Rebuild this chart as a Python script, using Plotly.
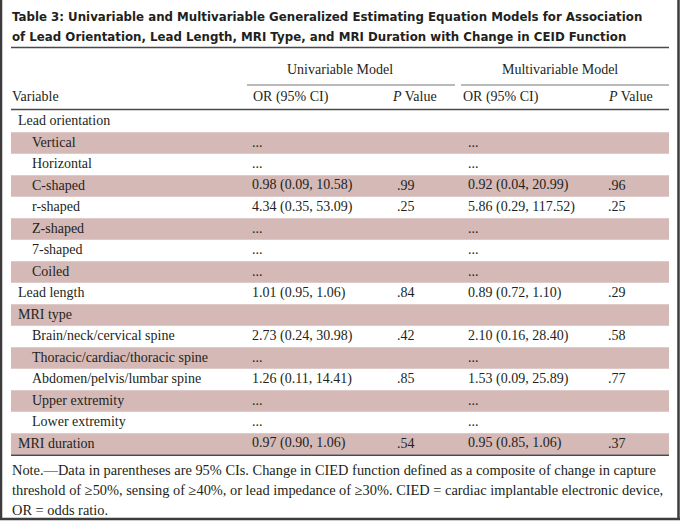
import plotly.graph_objects as go

# ---------------- data ----------------
title_lines = [
    "Table 3: Univariable and Multivariable Generalized Estimating Equation Models for Association",
    "of Lead Orientation, Lead Length, MRI Type, and MRI Duration with Change in CEID Function",
]
group_headers = ["Univariable Model", "Multivariable Model"]
col_headers = ["Variable", "OR (95% CI)", "<i>P</i> Value", "OR (95% CI)", "<i>P</i> Value"]

variables = ["Lead orientation", "Vertical", "Horizontal", "C-shaped", "r-shaped", "Z-shaped",
             "7-shaped", "Coiled", "Lead length", "MRI type", "Brain/neck/cervical spine",
             "Thoracic/cardiac/thoracic spine", "Abdomen/pelvis/lumbar spine",
             "Upper extremity", "Lower extremity", "MRI duration"]
indent = [0, 1, 1, 1, 1, 1, 1, 1, 0, 0, 1, 1, 1, 1, 1, 0]
uni_or = ["", "...", "...", "0.98 (0.09, 10.58)", "4.34 (0.35, 53.09)", "...", "...", "...",
          "1.01 (0.95, 1.06)", "", "2.73 (0.24, 30.98)", "...", "1.26 (0.11, 14.41)", "...", "...",
          "0.97 (0.90, 1.06)"]
uni_p = ["", "", "", ".99", ".25", "", "", "", ".84", "", ".42", "", ".85", "", "", ".54"]
multi_or = ["", "...", "...", "0.92 (0.04, 20.99)", "5.86 (0.29, 117.52)", "...", "...", "...",
            "0.89 (0.72, 1.10)", "", "2.10 (0.16, 28.40)", "...", "1.53 (0.09, 25.89)", "...", "...",
            "0.95 (0.85, 1.06)"]
multi_p = ["", "", "", ".96", ".25", "", "", "", ".29", "", ".58", "", ".77", "", "", ".37"]

note_lines = [
    "Note.\u2014Data in parentheses are 95% CIs. Change in CIED function defined as a composite of change in capture",
    "threshold of \u226550%, sensing of \u226540%, or lead impedance of \u226530%. CIED = cardiac implantable electronic device,",
    "OR = odds ratio.",
]

# ---------------- layout constants ----------------
W, H = 680, 521
SERIF = "Liberation Serif"
SANS = "DejaVu Sans"
TXT = "#231f20"
SHADE = "#d5b9b7"
FS = 14

LEFT, RIGHT = 11, 669
ROW_TOP, PITCH = 110.8, 21.5
col_x = [12, 252, 397, 468, 608]
head_x = [12, 253, 392, 463, 608]

fig = go.Figure()
shapes = []
ann = []

def text(x, y, s, size=FS, family=SERIF, xanchor="left", weight="normal"):
    ann.append(dict(x=x, y=y, xref="x", yref="y", text=s, showarrow=False,
                    xanchor=xanchor, yanchor="middle", borderpad=0, borderwidth=0,
                    font=dict(family=family, size=size, color=TXT, weight=weight)))

def hline(y, x0, x1, width=1.4, color="#4a4a4a"):
    shapes.append(dict(type="line", xref="x", yref="y", x0=x0, x1=x1, y0=y, y1=y,
                       line=dict(color=color, width=width)))

# title
for i, t in enumerate(title_lines):
    text(11.5, 16.5 + i * 20, t, size=11.8, family=SANS, weight="bold")

hline(47.5, LEFT, RIGHT)

# group headers
text(340, 69.5, group_headers[0], xanchor="center")
text(560, 69.5, group_headers[1], xanchor="center")
hline(85, 247, 455, width=1.2, color="#777777")
hline(85, 461, RIGHT, width=1.2, color="#777777")

for x, h in zip(head_x, col_headers):
    text(x, 96.5, h)
hline(109.5, LEFT, RIGHT)

# body rows
for i, v in enumerate(variables):
    y0 = ROW_TOP + i * PITCH
    yc = y0 + PITCH / 2 - 1
    if i % 2 == 1:
        shapes.append(dict(type="rect", xref="x", yref="y", x0=LEFT, x1=RIGHT,
                           y0=y0, y1=y0 + PITCH, fillcolor=SHADE, line=dict(width=0),
                           layer="below"))
    text(18 + 14 * indent[i], yc, v)
    for x, col in zip(col_x[1:], [uni_or, uni_p, multi_or, multi_p]):
        if col[i]:
            text(x, yc, col[i])

hline(ROW_TOP + len(variables) * PITCH + 0.5, LEFT, RIGHT)

# note
for i, t in enumerate(note_lines):
    text(12, 470 + i * 20, t, size=14.4)

# outer frame (left, right, bottom)
for (x0, y0, x1, y1) in [(1, 0, 1, 519.5), (678.5, 0, 678.5, 519.5), (0, 519, 680, 519)]:
    shapes.append(dict(type="line", xref="x", yref="y", x0=x0, x1=x1, y0=y0, y1=y1,
                       line=dict(color="#3c3c3c", width=2.5)))

fig.add_trace(go.Scatter(x=[0, W], y=[0, H], mode="markers", marker=dict(opacity=0),
                         hoverinfo="skip", showlegend=False))
fig.update_layout(
    width=W, height=H, margin=dict(l=0, r=0, t=0, b=0),
    paper_bgcolor="white", plot_bgcolor="white",
    xaxis=dict(range=[0, W], visible=False, fixedrange=True),
    yaxis=dict(range=[H, 0], visible=False, fixedrange=True),
    shapes=shapes, annotations=ann, showlegend=False,
)
fig.write_html("out.html", config={"displayModeBar": False},
               post_script="document.body.style.margin='0';document.body.style.overflow='hidden';")
